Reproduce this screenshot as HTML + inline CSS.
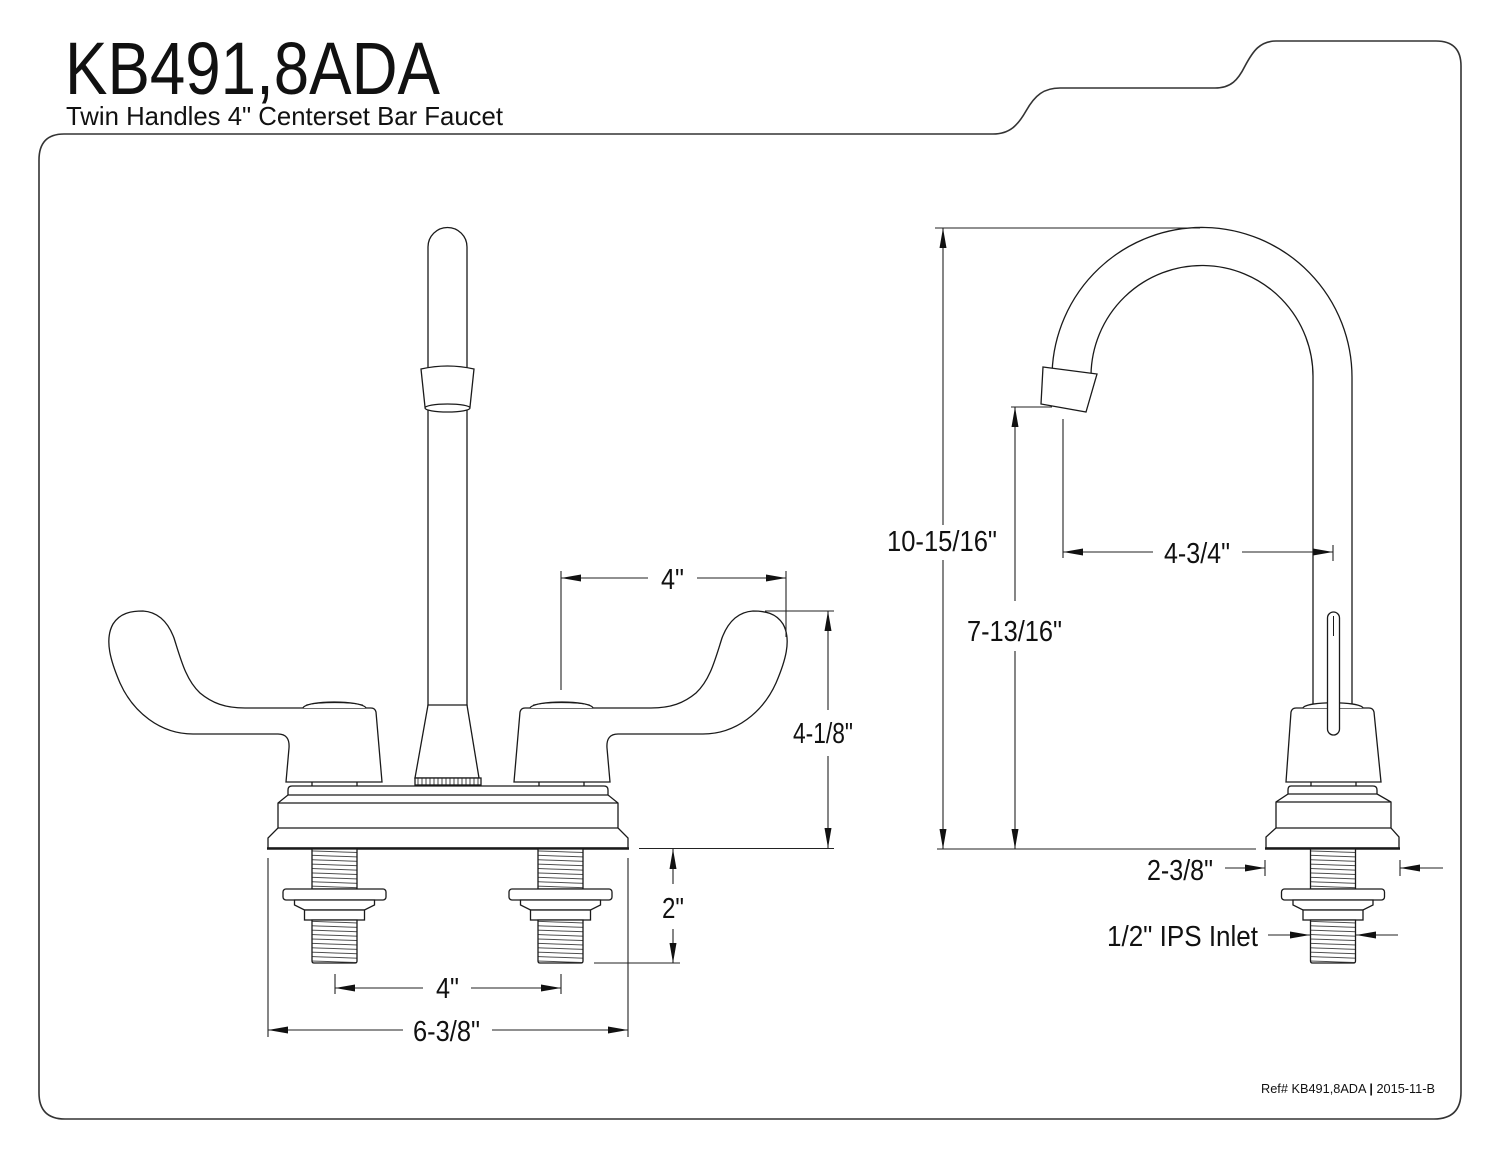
<!DOCTYPE html>
<html>
<head>
<meta charset="utf-8">
<style>
html,body{margin:0;padding:0;background:#fff;}
body{width:1500px;height:1159px;overflow:hidden;}
svg{display:block;}
text{font-family:"Liberation Sans",Arial,sans-serif;fill:#111;}
</style>
</head>
<body>
<svg width="1500" height="1159" viewBox="0 0 1500 1159" xmlns="http://www.w3.org/2000/svg">
<defs>
  <marker id="ar" viewBox="0 0 20 7" markerWidth="20" markerHeight="7" refX="20" refY="3.5" orient="auto" markerUnits="userSpaceOnUse">
    <path d="M0,0 L20,3.5 L0,7 Z" fill="#111"/>
  </marker>
  <pattern id="thr" patternUnits="userSpaceOnUse" width="60" height="4.4" patternTransform="rotate(2)">
    <rect width="60" height="4.4" fill="#fff"/>
    <line x1="0" y1="2" x2="60" y2="2" stroke="#333" stroke-width="0.9"/>
  </pattern>
  <pattern id="knurl" patternUnits="userSpaceOnUse" width="4" height="10">
    <rect width="4" height="10" fill="#fff"/>
    <line x1="2" y1="0" x2="2" y2="10" stroke="#333" stroke-width="0.9"/>
  </pattern>
  <g id="handle">
    <path d="M286,782 L289,748 Q290,734 278,734 L193,734 C160,734 133,712 120,683 C111,662 104,640 113,624 C120,613 131,611 143,611 C158,612 168,622 174,638 C181,660 186,680 200,693 C212,703 225,708 245,708 L371,708 Q375,708 376,712 L382,782 Z" fill="#fff"/>
    <path d="M303,708 C306,700 362,700 366,708" fill="#fff"/>
    <path d="M306,705 C320,702 350,702 363,705" stroke-width="0.8"/>
    <path d="M312,782 L312,786 M357,782 L357,786"/>
  </g>
  <g id="shank">
    <rect x="-22.5" y="849" width="45" height="40" fill="url(#thr)"/>
    <rect x="-51.5" y="889" width="103" height="11" rx="3" fill="#fff"/>
    <path d="M-40,900 L-40,905 L-30,910 L30,910 L40,905 L40,900 Z" fill="#fff"/>
    <rect x="-30" y="910" width="60" height="10" fill="#fff"/>
    <path d="M-22.5,920 L-22.5,961 Q-22.5,963 -20.5,963 L20.5,963 Q22.5,963 22.5,961 L22.5,920 Z" fill="url(#thr)"/>
  </g>
</defs>

<!-- Frame -->
<path d="M39,160 Q39,134 64,134 L993,134 C1010,134 1018,125 1026,111 C1035,95 1044,88 1060,88 L1215,88 C1231,88 1238,80 1245,66 C1253,51 1260,41 1276,41 L1436,41 Q1461,41 1461,66 L1461,1092 Q1461,1119 1434,1119 L65,1119 Q39,1119 39,1093 Z" fill="none" stroke="#333" stroke-width="1.6"/>

<!-- Title -->
<text x="65" y="94" font-size="74" textLength="375" lengthAdjust="spacingAndGlyphs">KB491,8ADA</text>
<text x="66" y="125" font-size="26" textLength="437" lengthAdjust="spacingAndGlyphs">Twin Handles 4" Centerset Bar Faucet</text>

<!-- Left faucet -->
<g fill="none" stroke="#1a1a1a" stroke-width="1.3">
  <!-- spout tube -->
  <path d="M428,370 L428,247 A19.5,19.5 0 0 1 467,247 L467,370"/>
  <path d="M428,410 L428,706 M467,410 L467,706"/>
  <!-- coupling -->
  <path d="M421,369 Q447.5,363 474,369 L470,407 L425,407 Z" fill="#fff"/>
  <ellipse cx="447.5" cy="408" rx="22.5" ry="4" fill="#fff"/>
  <!-- spout base -->
  <path d="M428,705 L467,705 L479,778 L415,778 Z" fill="#fff"/>
  <rect x="415" y="778" width="66" height="7" fill="url(#knurl)"/>
  <!-- handles -->
  <use href="#handle"/>
  <use href="#handle" transform="translate(896,0) scale(-1,1)"/>
  <!-- base -->
  <path d="M292,786 L604,786 Q608,786 608,790 L608,795 L618,803 L618,828 L628,838 L628,848 L268,848 L268,838 L278,828 L278,803 L288,795 L288,790 Q288,786 292,786 Z" fill="#fff"/>
  <path d="M288,795 H608 M278,803 H618 M278,828 H618"/>
  <path d="M267,848.5 H629" stroke-width="2.6"/>
  <!-- shanks -->
  <use href="#shank" x="334.5"/>
  <use href="#shank" x="560.5"/>
</g>

<!-- Right faucet -->
<g fill="none" stroke="#1a1a1a" stroke-width="1.3">
  <path d="M1352,705 L1352,378 A150,150 0 0 0 1052.1,372"/>
  <path d="M1313,705 L1313,378 A111,111 0 0 0 1091,375"/>
  <path d="M1043,367 L1097,374 L1086,412 L1041,404 Z" fill="#fff"/>
  <!-- body -->
  <path d="M1286,782 L1291,712 Q1292,708 1296,708 L1369,708 Q1373,708 1374,712 L1381,782 Z" fill="#fff"/>
  <path d="M1303,708 C1306,701 1360,701 1363,708" fill="#fff"/>
  <path d="M1311,782 L1311,786 M1356,782 L1356,786"/>
  <!-- lever -->
  <rect x="1327.5" y="612" width="12" height="123" rx="6" fill="#fff"/>
  <path d="M1333.5,616 L1333.5,636" stroke-width="1"/>
  <!-- base -->
  <path d="M1291,786 L1373,786 Q1377,786 1377,790 L1377,794 L1391,802 L1391,828 L1399,837 L1399,848 L1266,848 L1266,837 L1276,828 L1276,802 L1288,794 L1288,790 Q1288,786 1291,786 Z" fill="#fff"/>
  <path d="M1288,794 H1377 M1276,802 H1391 M1276,828 H1391"/>
  <path d="M1265,848.5 H1400" stroke-width="2.6"/>
  <use href="#shank" x="1333"/>
</g>

<!-- Dimensions -->
<g fill="none" stroke="#222" stroke-width="1.1">
  <!-- top 4" -->
  <line x1="561" y1="571" x2="561" y2="690"/>
  <line x1="786" y1="571" x2="786" y2="637"/>
  <line x1="648" y1="578" x2="561" y2="578" marker-end="url(#ar)"/>
  <line x1="697" y1="578" x2="786" y2="578" marker-end="url(#ar)"/>
  <!-- 4-1/8" -->
  <line x1="765" y1="611" x2="834" y2="611"/>
  <line x1="639" y1="848.5" x2="834" y2="848.5"/>
  <line x1="828" y1="710" x2="828" y2="611" marker-end="url(#ar)"/>
  <line x1="828" y1="756" x2="828" y2="848" marker-end="url(#ar)"/>
  <!-- 2" -->
  <line x1="594" y1="963" x2="680" y2="963"/>
  <line x1="673" y1="884" x2="673" y2="849" marker-end="url(#ar)"/>
  <line x1="673" y1="929" x2="673" y2="963" marker-end="url(#ar)"/>
  <!-- bottom 4" -->
  <line x1="335" y1="974" x2="335" y2="994"/>
  <line x1="561" y1="974" x2="561" y2="994"/>
  <line x1="423" y1="988" x2="335" y2="988" marker-end="url(#ar)"/>
  <line x1="471" y1="988" x2="561" y2="988" marker-end="url(#ar)"/>
  <!-- 6-3/8" -->
  <line x1="268" y1="858" x2="268" y2="1037"/>
  <line x1="628" y1="858" x2="628" y2="1037"/>
  <line x1="403" y1="1030" x2="268" y2="1030" marker-end="url(#ar)"/>
  <line x1="492" y1="1030" x2="628" y2="1030" marker-end="url(#ar)"/>

  <!-- 10-15/16" -->
  <line x1="935" y1="228" x2="1200" y2="228"/>
  <line x1="943" y1="525" x2="943" y2="228" marker-end="url(#ar)"/>
  <line x1="943" y1="560" x2="943" y2="849" marker-end="url(#ar)"/>
  <!-- 7-13/16" -->
  <line x1="1011" y1="407" x2="1052" y2="407"/>
  <line x1="1015" y1="601" x2="1015" y2="407" marker-end="url(#ar)"/>
  <line x1="1015" y1="651" x2="1015" y2="849" marker-end="url(#ar)"/>
  <line x1="937" y1="849" x2="1256" y2="849"/>
  <!-- 4-3/4" -->
  <line x1="1063" y1="419" x2="1063" y2="558"/>
  <line x1="1333" y1="545" x2="1333" y2="561"/>
  <line x1="1153" y1="552" x2="1063" y2="552" marker-end="url(#ar)"/>
  <line x1="1242" y1="552" x2="1333" y2="552" marker-end="url(#ar)"/>
  <!-- 2-3/8" -->
  <line x1="1265" y1="860" x2="1265" y2="876"/>
  <line x1="1400" y1="860" x2="1400" y2="876"/>
  <line x1="1225" y1="868" x2="1265" y2="868" marker-end="url(#ar)"/>
  <line x1="1443" y1="868" x2="1400" y2="868" marker-end="url(#ar)"/>
  <!-- 1/2" IPS -->
  <line x1="1268" y1="935" x2="1310" y2="935" marker-end="url(#ar)"/>
  <line x1="1398" y1="935" x2="1356" y2="935" marker-end="url(#ar)"/>
</g>

<!-- Dimension labels -->
<g font-size="29">
  <text x="661" y="589" textLength="23" lengthAdjust="spacingAndGlyphs">4"</text>
  <text x="793" y="743" textLength="60" lengthAdjust="spacingAndGlyphs">4-1/8"</text>
  <text x="662" y="918" textLength="22" lengthAdjust="spacingAndGlyphs">2"</text>
  <text x="436" y="998" textLength="23" lengthAdjust="spacingAndGlyphs">4"</text>
  <text x="413" y="1041" textLength="67" lengthAdjust="spacingAndGlyphs">6-3/8"</text>
  <text x="887" y="551" textLength="110" lengthAdjust="spacingAndGlyphs">10-15/16"</text>
  <text x="967" y="641" textLength="95" lengthAdjust="spacingAndGlyphs">7-13/16"</text>
  <text x="1164" y="563" textLength="66" lengthAdjust="spacingAndGlyphs">4-3/4"</text>
  <text x="1147" y="880" textLength="66" lengthAdjust="spacingAndGlyphs">2-3/8"</text>
  <text x="1107" y="946" textLength="151" lengthAdjust="spacingAndGlyphs">1/2" IPS Inlet</text>
</g>

<!-- Ref -->
<text x="1261" y="1093" font-size="13" textLength="174" lengthAdjust="spacingAndGlyphs">Ref# KB491,8ADA <tspan font-weight="bold">|</tspan> 2015-11-B</text>
</svg>
</body>
</html>
